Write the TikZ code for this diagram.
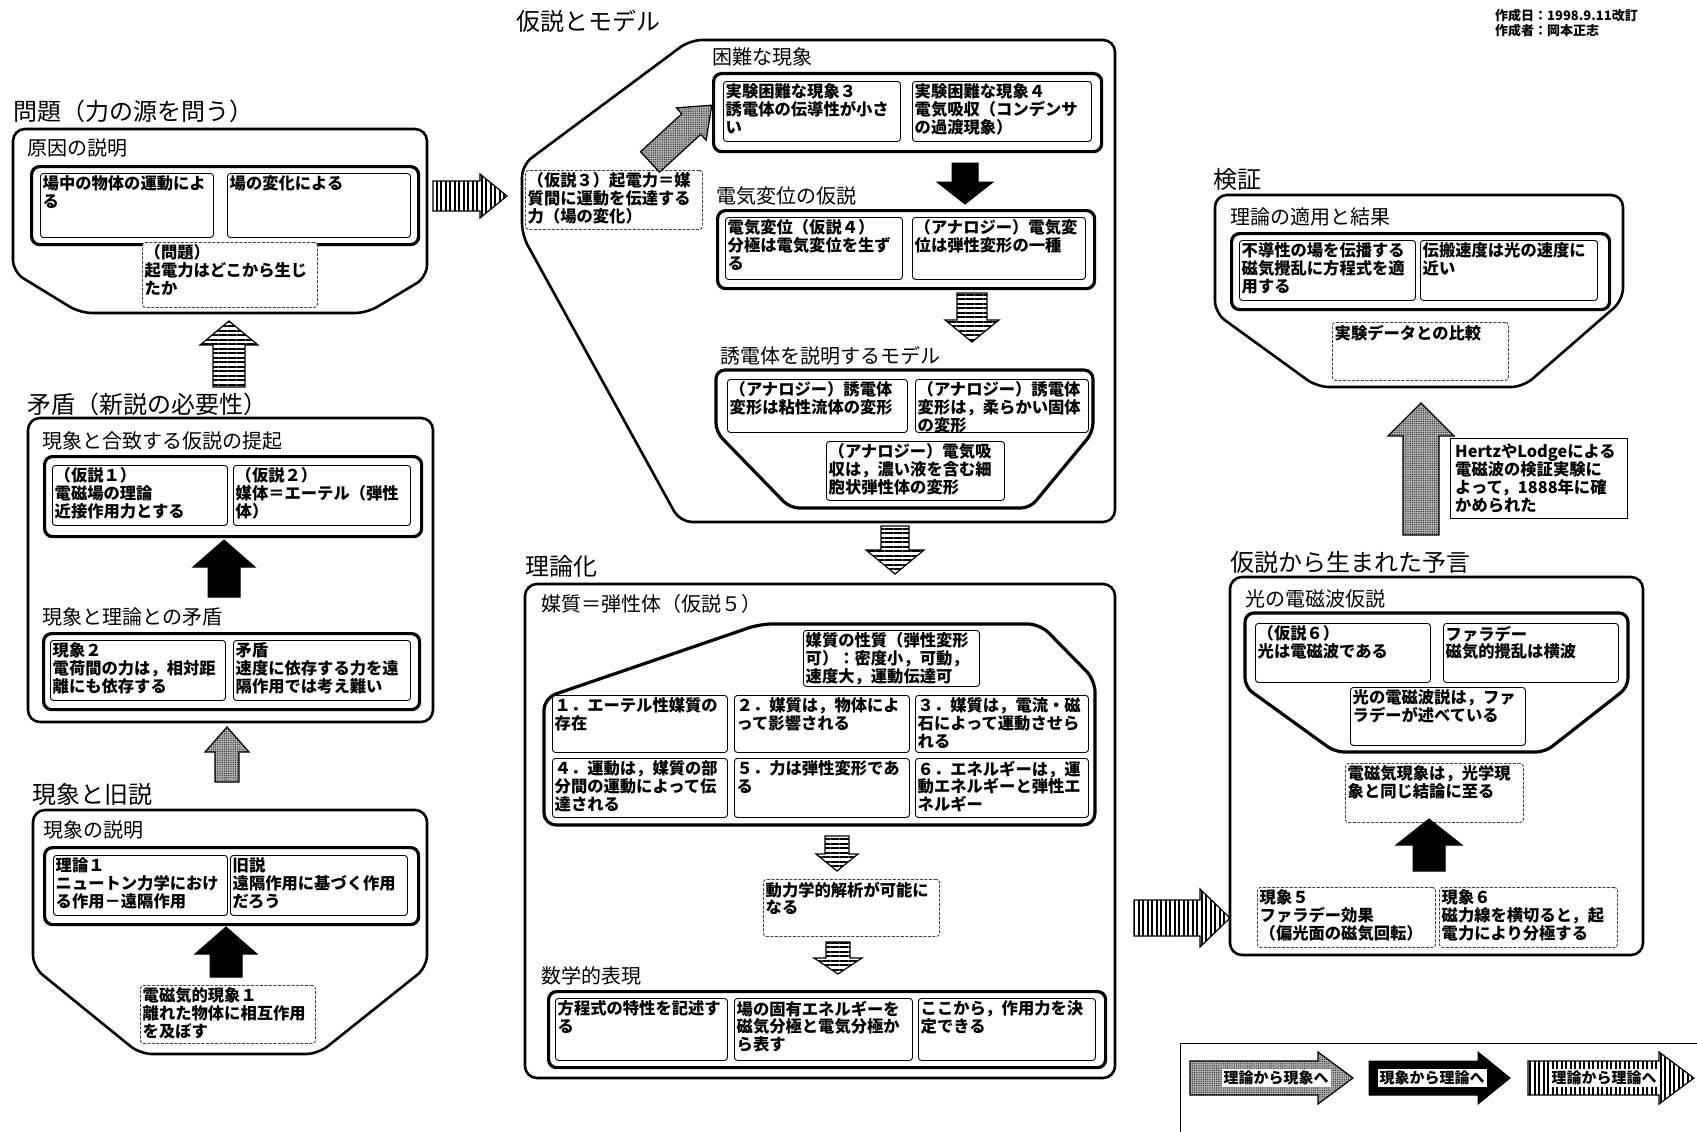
\documentclass[tikz,border=0pt]{standalone}
\usepackage{fontspec}
\setmainfont{Noto Sans CJK JP}
\usetikzlibrary{patterns.meta}
\tikzset{
  outline/.style={draw, line width=2.6pt, rounded corners=12pt},
  frame/.style={draw, line width=3.2pt, rounded corners=8pt, anchor=north west, inner sep=0pt},
  card/.style={draw, line width=0.9pt, rounded corners=3pt, anchor=north west, inner sep=0pt, fill=white},
  dcard/.style={card, draw=black!75, dash pattern=on 3pt off 1.5pt},
  cardtext/.style={anchor=north west, inner sep=2.5pt, align=left,
    font=\fontsize{16.3}{17.8}\selectfont\bfseries},
  heading/.style={anchor=west, inner sep=0pt, font=\fontsize{20}{22}\selectfont},
  titletext/.style={anchor=west, inner sep=0pt, font=\fontsize{24}{26}\selectfont},
  stripev/.style={draw, line width=1.2pt, preaction={fill=white},
    pattern={Lines[angle=90,distance=4.5pt,line width=2pt]}},
  stripeh/.style={draw, line width=1.2pt, preaction={fill=white},
    pattern={Lines[angle=0,distance=4.5pt,line width=2pt]}},
  stipple/.style={draw, line width=1.2pt, preaction={fill=black!30},
    pattern={Dots[distance=2.2pt,radius=0.7pt]}, pattern color=black!80},
  solidarrow/.style={draw, line width=1pt, fill=black},
  legendtext/.style={fill=white, inner sep=2pt, font=\fontsize{15}{16}\selectfont\bfseries},
}
% block arrow: style, tail, angle, length, shaft half width, head half width, head length
\newcommand{\blockarrow}[7]{%
  \path[#1, shift={(#2)}, rotate=#3] (0,-#5) -- ({#4-#7},-#5) -- ({#4-#7},-#6) -- (#4,0)
    -- ({#4-#7},#6) -- ({#4-#7},#5) -- (0,#5) -- cycle;}

\begin{document}
\begin{tikzpicture}[x=1pt, y=-1pt]
  \useasboundingbox[fill=white] (0,0) rectangle (1697,1132);

  % problem
  \node[titletext] (prob) at (13,111) {問題（力の源を問う）};
  \draw[outline] (13,129) -- (427,129) -- (427,277) -- (367,313) -- (80,313) -- (13,272) -- cycle;
  \node[heading] (cause) at (27,148) {原因の説明};
  \node[frame, minimum width=387pt, minimum height=78pt] (causeframe) at (30,165) {};
  \node[card, minimum width=173pt, minimum height=64pt, label={[cardtext]north west:{場中の物体の運動によ\\る}}] (cause1) at (40,173) {};
  \node[card, minimum width=183pt, minimum height=64pt, label={[cardtext]north west:{場の変化による}}] (cause2) at (227,173) {};
  \node[dcard, minimum width=175pt, minimum height=65pt, label={[cardtext]north west:{（問題）\\起電力はどこから生じ\\たか}}] (question) at (142,242) {};

  % contradiction
  \node[titletext] (contra) at (27,404) {矛盾（新説の必要性）};
  \draw[outline] (28,418) rectangle (433,722);
  \node[heading] (propose) at (42,441) {現象と合致する仮説の提起};
  \node[frame, minimum width=377pt, minimum height=80pt] (hypframe) at (43,455) {};
  \node[card, minimum width=175pt, minimum height=60pt, label={[cardtext]north west:{（仮説１）\\電磁場の理論\\近接作用力とする}}] (hyp1) at (52,465) {};
  \node[card, minimum width=177pt, minimum height=60pt, label={[cardtext]north west:{（仮説２）\\媒体＝エーテル（弾性\\体）}}] (hyp2) at (233,465) {};
  \node[heading] (mismatch) at (42,617) {現象と理論との矛盾};
  \node[frame, minimum width=376pt, minimum height=76pt] (misframe) at (42,632) {};
  \node[card, minimum width=175pt, minimum height=60pt, label={[cardtext]north west:{現象２\\電荷間の力は，相対距\\離にも依存する}}] (phen2) at (50,640) {};
  \node[card, minimum width=177pt, minimum height=60pt, label={[cardtext]north west:{矛盾\\速度に依存する力を遠\\隔作用では考え難い}}] (conflict) at (233,640) {};

  % old theory
  \node[titletext] (old) at (32,794) {現象と旧説};
  \draw[outline] (33,810) -- (427,810) -- (427,967) -- (318,1054) -- (140,1054) -- (33,967) -- cycle;
  \node[heading] (explain) at (43,830) {現象の説明};
  \node[frame, minimum width=374pt, minimum height=77pt] (oldframe) at (43,846) {};
  \node[card, minimum width=174pt, minimum height=60pt, label={[cardtext]north west:{理論１\\ニュートン力学におけ\\る作用－遠隔作用}}] (theory1) at (53,855) {};
  \node[card, minimum width=177pt, minimum height=60pt, label={[cardtext]north west:{旧説\\遠隔作用に基づく作用\\だろう}}] (oldview) at (230,855) {};
  \node[dcard, minimum width=175pt, minimum height=58pt, label={[cardtext]north west:{電磁気的現象１\\離れた物体に相互作用\\を及ぼす}}] (phen1) at (140,985) {};

  % hypothesis and model
  \node[titletext] (model) at (516,21) {仮説とモデル};
  \draw[outline] (690,40) -- (1115,40) -- (1115,522) -- (680,522) -- (522,235) -- (522,165) -- cycle;
  \node[heading] (hard) at (712,57) {困難な現象};
  \node[frame, minimum width=388pt, minimum height=78pt] (hardframe) at (712,72) {};
  \node[card, minimum width=177pt, minimum height=60pt, label={[cardtext]north west:{実験困難な現象３\\誘電体の伝導性が小さ\\い}}] (phen3) at (723,81) {};
  \node[card, minimum width=179pt, minimum height=60pt, label={[cardtext]north west:{実験困難な現象４\\電気吸収（コンデンサ\\の過渡現象）}}] (phen4) at (912,81) {};
  \node[dcard, minimum width=177pt, minimum height=59pt, label={[cardtext]north west:{（仮説３）起電力＝媒\\質間に運動を伝達する\\力（場の変化）}}] (hyp3) at (525,170) {};
  \node[heading] (dispt) at (716,196) {電気変位の仮説};
  \node[frame, minimum width=377pt, minimum height=78pt] (dispframe) at (716,209) {};
  \node[card, minimum width=177pt, minimum height=62pt, label={[cardtext]north west:{電気変位（仮説４）\\分極は電気変位を生ず\\る}}] (hyp4) at (725,217) {};
  \node[card, minimum width=173pt, minimum height=62pt, label={[cardtext]north west:{（アナロジー）電気変\\位は弾性変形の一種}}] (analog1) at (912,217) {};
  \node[heading] (dielec) at (720,356) {誘電体を説明するモデル};
  \draw[outline, line width=3.2pt, rounded corners=9pt] (716,370) -- (1093,370) -- (1093,432) -- (1030,508) -- (790,508) -- (716,432) -- cycle;
  \node[card, minimum width=180pt, minimum height=53pt, label={[cardtext]north west:{（アナロジー）誘電体\\変形は粘性流体の変形}}] (analog2) at (727,379) {};
  \node[card, minimum width=173pt, minimum height=53pt, label={[cardtext]north west:{（アナロジー）誘電体\\変形は，柔らかい固体\\の変形}}] (analog3) at (915,379) {};
  \node[card, minimum width=178pt, minimum height=59pt, label={[cardtext]north west:{（アナロジー）電気吸\\収は，濃い液を含む細\\胞状弾性体の変形}}] (analog4) at (826,441) {};

  % theorization
  \node[titletext] (theorize) at (525,566) {理論化};
  \draw[outline] (525,584) rectangle (1115,1078);
  \node[heading] (medium) at (541,604) {媒質＝弾性体（仮説５）};
  \draw[outline, line width=3.2pt] (544,825) -- (544,698) -- (760,624) -- (1040,624) -- (1095,680) -- (1095,825) -- cycle;
  \node[card, minimum width=176pt, minimum height=56pt, label={[cardtext]north west:{媒質の性質（弾性変形\\可）：密度小，可動，\\速度大，運動伝達可}}] (property) at (803,630) {};
  \node[card, minimum width=175pt, minimum height=57pt, label={[cardtext]north west:{１．エーテル性媒質の\\存在}}] (law1) at (552,695) {};
  \node[card, minimum width=175pt, minimum height=57pt, label={[cardtext]north west:{２．媒質は，物体によ\\って影響される}}] (law2) at (734,695) {};
  \node[card, minimum width=173pt, minimum height=57pt, label={[cardtext]north west:{３．媒質は，電流・磁\\石によって運動させら\\れる}}] (law3) at (915,695) {};
  \node[card, minimum width=175pt, minimum height=59pt, label={[cardtext]north west:{４．運動は，媒質の部\\分間の運動によって伝\\達される}}] (law4) at (552,758) {};
  \node[card, minimum width=175pt, minimum height=59pt, label={[cardtext]north west:{５．力は弾性変形であ\\る}}] (law5) at (734,758) {};
  \node[card, minimum width=173pt, minimum height=59pt, label={[cardtext]north west:{６．エネルギーは，運\\動エネルギーと弾性エ\\ネルギー}}] (law6) at (915,758) {};
  \node[dcard, minimum width=176pt, minimum height=57pt, label={[cardtext]north west:{動力学的解析が可能に\\なる}}] (dynamic) at (763,879) {};
  \node[heading] (mathexp) at (541,976) {数学的表現};
  \node[frame, minimum width=557pt, minimum height=76pt] (mathframe) at (547,990) {};
  \node[card, minimum width=172pt, minimum height=62pt, label={[cardtext]north west:{方程式の特性を記述す\\る}}] (math1) at (555,998) {};
  \node[card, minimum width=178pt, minimum height=62pt, label={[cardtext]north west:{場の固有エネルギーを\\磁気分極と電気分極か\\ら表す}}] (math2) at (734,998) {};
  \node[card, minimum width=177pt, minimum height=62pt, label={[cardtext]north west:{ここから，作用力を決\\定できる}}] (math3) at (918,998) {};

  % header
  \node[anchor=north west, inner sep=0pt, align=left, font=\fontsize{13}{14.5}\selectfont\bfseries] (made) at (1495,9) {作成日：1998.9.11改訂\\作成者：岡本正志};

  % verification
  \node[titletext] (verify) at (1213,179) {検証};
  \draw[outline] (1215,195) -- (1623,195) -- (1623,300) -- (1523,387) -- (1317,387) -- (1215,313) -- cycle;
  \node[heading] (apply) at (1230,217) {理論の適用と結果};
  \node[frame, minimum width=378pt, minimum height=76pt] (applyframe) at (1230,232) {};
  \node[card, minimum width=176pt, minimum height=60pt, label={[cardtext]north west:{不導性の場を伝播する\\磁気攪乱に方程式を適\\用する}}] (apply1) at (1239,240) {};
  \node[card, minimum width=177pt, minimum height=60pt, label={[cardtext]north west:{伝搬速度は光の速度に\\近い}}] (apply2) at (1420,240) {};
  \node[dcard, minimum width=176pt, minimum height=58pt, label={[cardtext]north west:{実験データとの比較}}] (compare) at (1332,322) {};
  \node[card, rounded corners=0pt, minimum width=177pt, minimum height=80pt, label={[cardtext, inner sep=5pt]north west:{HertzやLodgeによる\\電磁波の検証実験に\\よって，1888年に確\\かめられた}}] (hertz) at (1450,438) {};

  % prediction
  \node[titletext] (predict) at (1230,562) {仮説から生まれた予言};
  \draw[outline] (1230,577) rectangle (1643,955);
  \node[heading] (lightem) at (1245,599) {光の電磁波仮説};
  \draw[outline, line width=3.2pt, rounded corners=9pt] (1245,613) -- (1628,613) -- (1628,687) -- (1545,752) -- (1335,752) -- (1245,687) -- cycle;
  \node[card, minimum width=175pt, minimum height=59pt, label={[cardtext]north west:{（仮説６）\\光は電磁波である}}] (hyp6) at (1255,623) {};
  \node[card, minimum width=175pt, minimum height=59pt, label={[cardtext]north west:{ファラデー\\磁気的攪乱は横波}}] (faraday) at (1443,623) {};
  \node[card, minimum width=175pt, minimum height=58pt, label={[cardtext]north west:{光の電磁波説は，ファ\\ラデーが述べている}}] (emtheory) at (1350,687) {};
  \node[dcard, minimum width=178pt, minimum height=59pt, label={[cardtext]north west:{電磁気現象は，光学現\\象と同じ結論に至る}}] (optics) at (1345,763) {};
  \node[dcard, minimum width=178pt, minimum height=60pt, label={[cardtext]north west:{現象５\\ファラデー効果\\（偏光面の磁気回転）}}] (phen5) at (1257,887) {};
  \node[dcard, minimum width=178pt, minimum height=60pt, label={[cardtext]north west:{現象６\\磁力線を横切ると，起\\電力により分極する}}] (phen6) at (1439,887) {};

  % arrows
  \blockarrow{stripeh}{229,387}{90}{66}{16}{29}{24}
  \blockarrow{stipple}{227,782}{90}{55}{12}{22}{25}
  \blockarrow{solidarrow}{224,597}{90}{57}{16}{31}{27}
  \blockarrow{solidarrow}{226,977}{90}{50}{16}{31}{27}
  \blockarrow{stripev}{433,196}{0}{74}{15}{22}{27}
  \blockarrow{stipple}{650,162}{42.6}{84}{14}{22}{28}
  \blockarrow{solidarrow}{965,163}{-90}{41}{13}{28}{22}
  \blockarrow{stripeh}{972,293}{-90}{49}{15}{27}{22}
  \blockarrow{stripeh}{895,526}{-90}{48}{14}{29}{24}
  \blockarrow{stripeh}{837,836}{-90}{35}{12}{21}{17}
  \blockarrow{stripeh}{838,942}{-90}{32}{12}{24}{16}
  \blockarrow{stripev}{1134,918}{0}{96}{18}{29}{30}
  \blockarrow{solidarrow}{1429,871}{90}{52}{16}{33}{26}
  \blockarrow{stipple}{1421,535}{90}{132}{18}{33}{33}

  % legend
  \draw[line width=1pt] (1180,1145) -- (1180,1043) -- (1710,1043);
  \blockarrow{stipple}{1190,1078}{0}{163}{17}{26}{35}
  \blockarrow{solidarrow}{1369,1078}{0}{141}{17}{26}{32}
  \blockarrow{stripev}{1528,1078}{0}{166}{17}{26}{35}
  \node[legendtext] (tophen) at (1276,1078) {理論から現象へ};
  \node[legendtext] (totheo) at (1432,1078) {現象から理論へ};
  \node[legendtext] (theotheo) at (1604,1078) {理論から理論へ};
\end{tikzpicture}
\end{document}
